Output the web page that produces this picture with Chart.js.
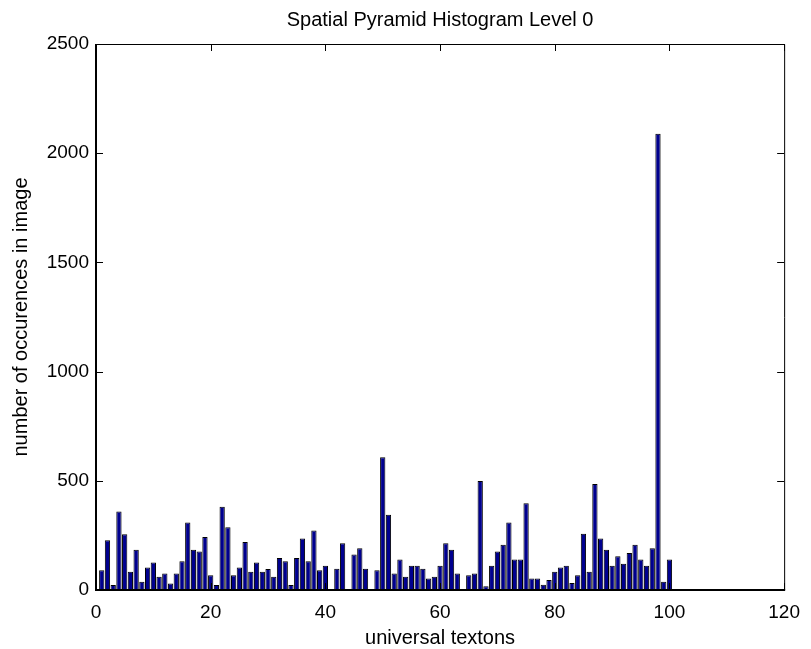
<!DOCTYPE html>
<html>
<head>
<meta charset="utf-8">
<title>Spatial Pyramid Histogram Level 0</title>
<script src="https://cdn.jsdelivr.net/npm/chart.js@4.4.1/dist/chart.umd.min.js"></script>
<style>
  html, body { margin: 0; padding: 0; background: #fff; }
  canvas { display: block; }
</style>
</head>
<body>
<canvas id="histChart" width="811" height="649"></canvas>
<script>
// occurrences per universal texton (textons 1..100)
const counts = [
  90, 228, 23, 360, 255, 84, 184, 38, 103, 126,
  61, 75, 30, 75, 132, 309, 184, 176, 243, 67,
  23, 381, 287, 67, 103, 220, 84, 126, 84, 96,
  61, 147, 132, 23, 147, 236, 132, 272, 90, 111,
  0, 97, 214, 3, 163, 191, 97, 0, 90, 608,
  345, 75, 140, 61, 111, 111, 97, 53, 61, 111,
  214, 184, 75, 0, 67, 75, 499, 17, 111, 176,
  207, 309, 140, 140, 397, 53, 53, 24, 46, 84,
  103, 111, 32, 67, 257, 84, 485, 236, 184, 111,
  155, 120, 169, 207, 140, 111, 191, 2089, 38, 140
];
const xTicks = [0, 20, 40, 60, 80, 100, 120];
const yTicks = [0, 500, 1000, 1500, 2000, 2500];

const FONT = '"Liberation Sans", Arial, Helvetica, sans-serif';
Chart.defaults.color = '#000';
Chart.defaults.font.family = FONT;

// matlab-style box with inward tick marks
const boxPlugin = {
  id: 'box',
  afterDatasetsDraw(chart) {
    const { ctx, chartArea: a, scales: { x, y } } = chart;
    const tick = 7;
    ctx.save();
    ctx.strokeStyle = '#000';
    ctx.lineWidth = 1;
    ctx.beginPath();
    x.ticks.forEach(t => {
      const px = Math.round(x.getPixelForValue(t.value)) + 0.5;
      ctx.moveTo(px, a.bottom); ctx.lineTo(px, a.bottom - tick);
      ctx.moveTo(px, a.top); ctx.lineTo(px, a.top + tick);
    });
    y.ticks.forEach(t => {
      const py = Math.round(y.getPixelForValue(t.value)) + 0.5;
      ctx.moveTo(a.left, py); ctx.lineTo(a.left + tick, py);
      ctx.moveTo(a.right, py); ctx.lineTo(a.right - tick, py);
    });
    ctx.stroke();
    // top + right edges
    ctx.beginPath();
    ctx.moveTo(a.left, a.top + 0.5); ctx.lineTo(a.right + 0.5, a.top + 0.5);
    ctx.lineTo(a.right + 0.5, a.bottom);
    ctx.stroke();
    // left + bottom edges a bit heavier
    ctx.lineWidth = 2;
    ctx.beginPath();
    ctx.moveTo(a.left, a.top); ctx.lineTo(a.left, a.bottom);
    ctx.lineTo(a.right + 1, a.bottom);
    ctx.stroke();
    ctx.restore();
  }
};

new Chart(document.getElementById('histChart'), {
  type: 'bar',
  data: {
    datasets: [{
      data: counts.map((c, i) => ({ x: i + 1, y: c })),
      backgroundColor: '#00008f',
      borderColor: '#000',
      borderWidth: 1,
      borderSkipped: false,
      barPercentage: 0.92,
      categoryPercentage: 1
    }]
  },
  plugins: [boxPlugin],
  options: {
    responsive: false,
    animation: false,
    devicePixelRatio: 1,
    layout: { padding: { left: 0, right: 22, top: 0, bottom: 0 } },
    plugins: {
      legend: { display: false },
      tooltip: { enabled: false },
      title: {
        display: true,
        text: 'Spatial Pyramid Histogram Level 0',
        fullSize: false,
        font: { size: 20, weight: 'normal', family: FONT },
        padding: { top: 8, bottom: 12 }
      }
    },
    scales: {
      x: {
        type: 'linear',
        min: 0,
        max: 120,
        offset: false,
        afterBuildTicks: s => { s.ticks = xTicks.map(v => ({ value: v })); },
        afterFit: s => { s.height = 59; },
        grid: { display: false, drawTicks: false, offset: false },
        border: { display: false },
        ticks: { font: { size: 19 }, padding: 11, maxRotation: 0, callback: v => String(v) },
        title: {
          display: true,
          text: 'universal textons',
          font: { size: 20 },
          padding: { top: 0, bottom: -1 }
        }
      },
      y: {
        min: 0,
        max: 2500,
        afterBuildTicks: s => { s.ticks = yTicks.map(v => ({ value: v })); },
        afterFit: s => { s.width = 96; },
        grid: { display: false, drawTicks: false },
        border: { display: false },
        ticks: { font: { size: 19 }, padding: 7, callback: v => String(v) },
        title: {
          display: true,
          text: 'number of occurences in image',
          font: { size: 20 },
          padding: { top: 9, bottom: 0 }
        }
      }
    }
  }
});
</script>
</body>
</html>
